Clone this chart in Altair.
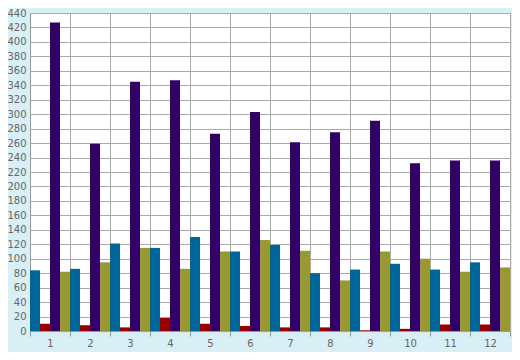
import altair as alt
import pandas as pd

groups = [str(i) for i in range(1, 13)]
series = ["S1", "S2", "S3", "S4"]
colors = ["#006699", "#990000", "#330066", "#999933"]

blue = [84, 86, 121, 115, 130, 110, 119, 80, 85, 93, 85, 95]
red = [10, 8, 5, 18, 10, 7, 5, 5, 1, 3, 9, 9]
purple = [427, 259, 345, 347, 273, 303, 261, 275, 291, 232, 236, 236]
olive = [82, 95, 115, 86, 110, 126, 111, 70, 110, 100, 82, 88]

y_ticks = list(range(0, 441, 20))

rows = []
for i, g in enumerate(groups):
    for s, vals in zip(series, [blue, red, purple, olive]):
        rows.append({"group": g, "series": s, "value": vals[i]})
df = pd.DataFrame(rows)

chart = (
    alt.Chart(df)
    .mark_bar()
    .encode(
        x=alt.X(
            "group:N",
            sort=groups,
            scale=alt.Scale(paddingInner=0, paddingOuter=0),
            axis=alt.Axis(
                title=None,
                labelAngle=0,
                tickBand="extent",
                grid=True,
                gridColor="#aaaaaa",
                gridWidth=1,
                ticks=True,
                tickSize=5,
                tickColor="#999999",
                domainColor="#999999",
                labelColor="#666666",
                labelFont="DejaVu Sans",
                labelFontSize=10,
                labelPadding=2,
            ),
        ),
        xOffset=alt.XOffset(
            "series:N",
            sort=series,
            scale=alt.Scale(domain=series, paddingInner=0, paddingOuter=0),
        ),
        y=alt.Y(
            "value:Q",
            scale=alt.Scale(domain=[0, 440], nice=False, zero=True),
            axis=alt.Axis(
                title=None,
                values=y_ticks,
                ticks=False,
                grid=True,
                gridColor="#aaaaaa",
                gridWidth=1,
                domainColor="#999999",
                labelColor="#666666",
                labelFont="DejaVu Sans",
                labelFontSize=10,
                labelPadding=4,
            ),
        ),
        color=alt.Color(
            "series:N",
            scale=alt.Scale(domain=series, range=colors),
            legend=None,
        ),
    )
    .properties(
        width=480,
        height=318,
        autosize=alt.AutoSizeParams(type="none"),
        padding={"left": 22, "right": 2, "top": 5, "bottom": 21},
        background="#d9eff6",
    )
    .configure_view(fill="white", stroke=None)
)

chart.save("out.html", embed_options={"renderer": "svg", "actions": False})
